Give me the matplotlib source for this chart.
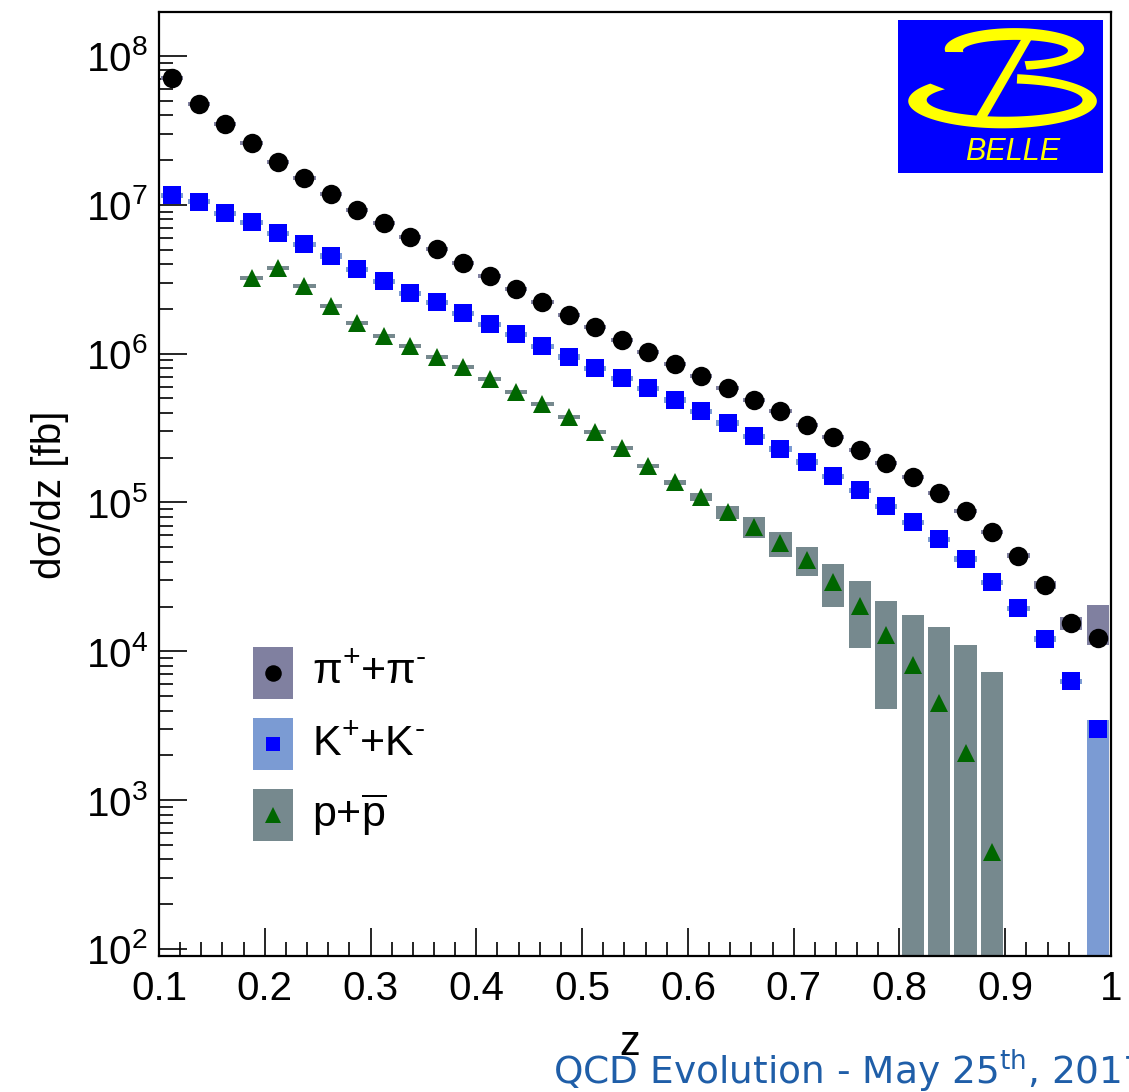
import numpy as np
import matplotlib
matplotlib.use('Agg')
import matplotlib.pyplot as plt
from matplotlib.patches import Rectangle
from matplotlib.lines import Line2D

plt.rcParams['font.family'] = ['Liberation Sans', 'DejaVu Sans']
plt.rcParams['mathtext.fontset'] = 'custom'
plt.rcParams['mathtext.rm'] = 'Liberation Sans'
plt.rcParams['mathtext.it'] = 'Liberation Sans:italic'
plt.rcParams['mathtext.default'] = 'regular'

# Bins in z (36 bins of 0.025 from 0.1 to 1.0)
z_edges = np.linspace(0.1, 1.0, 37)
z = 0.5 * (z_edges[:-1] + z_edges[1:])

# d sigma / dz [fb]
pi_val = [7.1e7, 4.75e7, 3.5e7, 2.6e7, 1.94e7, 1.51e7, 1.19e7, 9.2e6, 7.55e6, 6.1e6,
          5.05e6, 4.08e6, 3.33e6, 2.72e6, 2.22e6, 1.82e6, 1.51e6, 1.23e6, 1.03e6, 8.5e5,
          7.07e5, 5.87e5, 4.88e5, 4.11e5, 3.31e5, 2.75e5, 2.25e5, 1.84e5, 1.48e5, 1.16e5,
          8.75e4, 6.32e4, 4.4e4, 2.79e4, 1.55e4, 1.23e4]
k_val = [1.16e7, 1.05e7, 8.8e6, 7.66e6, 6.46e6, 5.45e6, 4.53e6, 3.7e6, 3.07e6, 2.55e6,
         2.22e6, 1.87e6, 1.58e6, 1.35e6, 1.12e6, 9.5e5, 8.0e5, 6.85e5, 5.87e5, 4.88e5,
         4.11e5, 3.42e5, 2.79e5, 2.29e5, 1.87e5, 1.5e5, 1.21e5, 9.46e4, 7.38e4, 5.67e4,
         4.17e4, 2.92e4, 1.95e4, 1.21e4, 6.3e3, 3.0e3]
p_val = [np.nan, np.nan, np.nan, 3.22e6, 3.76e6, 2.84e6, 2.09e6, 1.61e6, 1.31e6, 1.12e6,
         9.5e5, 8.13e5, 6.76e5, 5.52e5, 4.58e5, 3.75e5, 2.97e5, 2.32e5, 1.76e5, 1.37e5,
         1.09e5, 8.6e4, 6.83e4, 5.33e4, 4.1e4, 2.92e4, 2.01e4, 1.29e4, 8.07e3, 4.49e3,
         2.07e3, 447, np.nan, np.nan, np.nan, np.nan]

# systematic boxes (relative, down / up) for pi and K, absolute for p
pi_sys_lo = [0.03, 0.03, 0.03, 0.03, 0.03, 0.03, 0.03, 0.03, 0.03, 0.03,
             0.03, 0.03, 0.03, 0.03, 0.03, 0.03, 0.03, 0.03, 0.03, 0.03,
             0.03, 0.03, 0.03, 0.03, 0.03, 0.03, 0.03, 0.03, 0.03, 0.03,
             0.03, 0.03, 0.04, 0.06, 0.10, 0.10]
pi_sys_hi = [0.03, 0.03, 0.03, 0.03, 0.03, 0.03, 0.03, 0.03, 0.03, 0.03,
             0.03, 0.03, 0.03, 0.03, 0.03, 0.03, 0.03, 0.03, 0.03, 0.03,
             0.03, 0.03, 0.03, 0.03, 0.03, 0.03, 0.03, 0.03, 0.03, 0.03,
             0.03, 0.03, 0.04, 0.06, 0.10, 0.66]
k_sys_lo = [0.04, 0.04, 0.04, 0.04, 0.04, 0.04, 0.04, 0.04, 0.04, 0.04,
            0.04, 0.04, 0.04, 0.04, 0.04, 0.04, 0.04, 0.04, 0.04, 0.04,
            0.04, 0.04, 0.04, 0.04, 0.04, 0.04, 0.04, 0.04, 0.04, 0.04,
            0.04, 0.04, 0.04, 0.04, 0.04, 1.0]
k_sys_hi = [0.04, 0.04, 0.04, 0.04, 0.04, 0.04, 0.04, 0.04, 0.04, 0.04,
            0.04, 0.04, 0.04, 0.04, 0.04, 0.04, 0.04, 0.04, 0.04, 0.04,
            0.04, 0.04, 0.04, 0.04, 0.04, 0.04, 0.04, 0.04, 0.04, 0.04,
            0.04, 0.04, 0.04, 0.04, 0.04, 0.15]
p_sys = [np.nan, np.nan, np.nan, 1e5, 1.2e5, 9e4, 7e4, 5e4, 4e4, 3.5e4,
         3e4, 2.5e4, 2e4, 1.7e4, 1.4e4, 1.2e4, 1e4, 8e3, 6e3, 5e3,
         6e3, 9e3, 1.1e4, 1.0e4, 9e3, 9.4e3, 9.5e3, 8.8e3, 9.4e3, 1.01e4,
         8.9e3, 6.8e3, np.nan, np.nan, np.nan, np.nan]

labels = ['$\\pi^{+}$+$\\pi^{\u2010}$', 'K$^{+}$+K$^{\u2010}$', r'p+$\overline{\rm p}$']
box_colors = ['#8080a0', '#7b9bd3', '#76898e']
mark_colors = ['black', '#0000ff', '#006600']
markers = ['o', 's', '^']
msizes = [14, 12.5, 13]

x_ticks = [0.1, 0.2, 0.3, 0.4, 0.5, 0.6, 0.7, 0.8, 0.9, 1.0]
x_tick_labels = ['0.1', '0.2', '0.3', '0.4', '0.5', '0.6', '0.7', '0.8', '0.9', '1']
y_ticks = [1e2, 1e3, 1e4, 1e5, 1e6, 1e7, 1e8]

W, H = 1129, 1092
fig = plt.figure(figsize=(W / 100, H / 100), dpi=100)
ax = fig.add_axes([159 / W, 1 - 956 / H, 952 / W, 944 / H])

ymin, ymax = 89.7, 1.975e8
box_w = 0.021

pi_v = np.array(pi_val)
k_v = np.array(k_val)
p_v = np.array(p_val)

boxes = [
    (pi_v * (1 - np.array(pi_sys_lo)), pi_v * (1 + np.array(pi_sys_hi))),
    (k_v * (1 - np.array(k_sys_lo)), k_v * (1 + np.array(k_sys_hi))),
    (p_v - np.array(p_sys), p_v + np.array(p_sys)),
]
values = [pi_v, k_v, p_v]

for (lo, hi), col in zip(boxes, box_colors):
    lo = np.where(lo > 0, lo, 1.0)
    ok = ~np.isnan(hi)
    ax.bar(z[ok], hi[ok] - lo[ok], bottom=lo[ok], width=box_w, color=col,
           linewidth=0, zorder=2)

for v, c, m, ms in zip(values, mark_colors, markers, msizes):
    ax.plot(z, v, linestyle='none', marker=m, color=c, markersize=ms,
            markeredgewidth=0, zorder=3)

ax.set_yscale('log')
ax.set_xlim(0.1, 1.0)
ax.set_ylim(ymin, ymax)
ax.set_xticks(x_ticks)
ax.set_xticklabels(x_tick_labels)
ax.set_xticks(np.arange(0.1, 1.0001, 0.02), minor=True)
ax.yaxis.set_major_locator(matplotlib.ticker.FixedLocator(y_ticks))
ax.yaxis.set_minor_locator(matplotlib.ticker.LogLocator(base=10, subs=np.arange(2, 10), numticks=100))
ax.yaxis.set_minor_formatter(matplotlib.ticker.NullFormatter())

ax.tick_params(which='both', direction='in', top=False, right=False, width=1.2,
               labelsize=29)
ax.tick_params(which='major', length=20)
ax.tick_params(which='minor', length=10)
ax.tick_params(axis='x', pad=10)
ax.tick_params(axis='y', pad=8)
for s in ax.spines.values():
    s.set_linewidth(1.6)

fig.text(50 / W, 1 - 495 / H, 'dσ/dz [fb]', rotation=90, ha='center', va='center',
         fontsize=29)
fig.text(630 / W, 1 - 1044 / H, 'z', ha='center', va='center', fontsize=30)

# legend drawn by hand
leg_y = [673, 744, 815]
for yc, lab, bc, mc, m, ms in zip(leg_y, labels, box_colors, mark_colors, markers, msizes):
    fig.add_artist(Rectangle((253 / W, 1 - (yc + 26) / H), 40 / W, 52 / H,
                             transform=fig.transFigure, color=bc, lw=0))
    fig.add_artist(Line2D([273 / W], [1 - yc / H], transform=fig.transFigure,
                          marker=m, color=mc, markersize=ms * 0.85,
                          markeredgewidth=0, linestyle='none'))
    fig.text(312 / W, 1 - yc / H, lab, ha='left', va='center', fontsize=31)

# Belle logo
lax = fig.add_axes([898 / W, 1 - 173 / H, 205 / W, 153 / H])
lax.set_facecolor('#0000ff')
lax.set_xlim(0, 1)
lax.set_ylim(0, 1)
lax.set_xticks([])
lax.set_yticks([])
for s in lax.spines.values():
    s.set_visible(False)


def ring(cx, cy, a, b, cx2, cy2, a2, b2, t0, t1):
    t = np.radians(np.linspace(t0, t1, 200))
    xo = cx + a * np.cos(t)
    yo = cy + b * np.sin(t)
    xi = cx2 + a2 * np.cos(t[::-1])
    yi = cy2 + b2 * np.sin(t[::-1])
    lax.fill(np.r_[xo, xi], np.r_[yo, yi], color='#ffff00', lw=0)


ring(0.568, 0.81, 0.34, 0.137, 0.573, 0.80, 0.256, 0.07, -80, 188)
ring(0.51, 0.47, 0.46, 0.178, 0.52, 0.477, 0.38, 0.109, 140, 441)
lax.fill([0.615, 0.665, 0.43, 0.375], [0.905, 0.905, 0.357, 0.357],
         color='#ffff00', lw=0)
lax.text(0.56, 0.135, 'BELLE', color='#ffff00', style='italic', fontsize=22,
         ha='center', va='center')

fig.text(553 / W, 1 - 1085 / H, r'QCD Evolution - May 25$^{th}$, 2017',
         color='#1f5ea8', fontsize=27, ha='left', va='baseline',
         family='DejaVu Sans')

fig.savefig('out.png', dpi=100)
